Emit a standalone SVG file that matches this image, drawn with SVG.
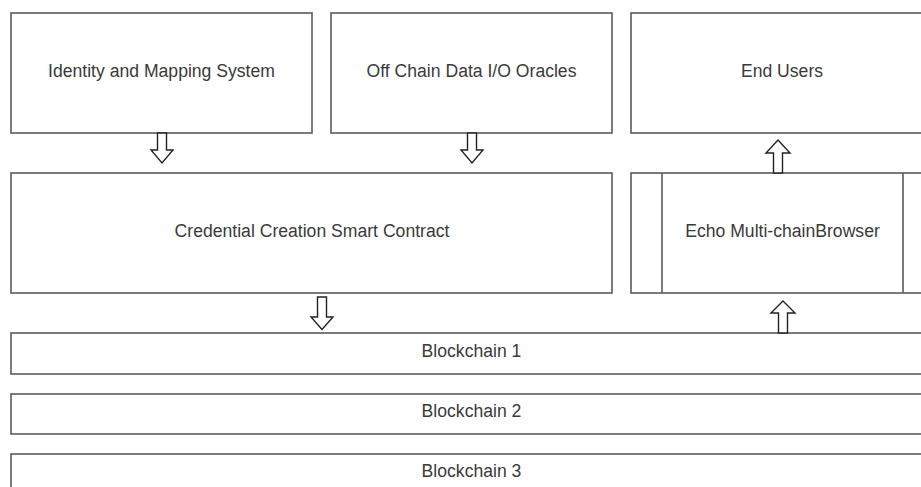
<svg xmlns="http://www.w3.org/2000/svg" width="921" height="487" viewBox="0 0 921 487">
<style>
.box{fill:#fff;stroke:#5a5a5a;stroke-width:1.6}
.div{stroke:#5a5a5a;stroke-width:1.6;fill:none}
.lbl{font-family:"Liberation Sans",Arial,sans-serif;font-size:17.6px;fill:#3a3a3a;text-anchor:middle}
.arr{fill:#fff;stroke:#222;stroke-width:1.4;stroke-linejoin:miter}
</style>
<rect width="921" height="487" fill="#fff"/>
<g id="identity">
<rect class="box" x="11" y="13" width="301" height="120"/>
<text class="lbl" x="161.5" y="77">Identity and Mapping System</text>
</g>
<g id="oracles">
<rect class="box" x="331" y="13" width="281" height="120"/>
<text class="lbl" x="471.5" y="77">Off Chain Data I/O Oracles</text>
</g>
<g id="endusers">
<rect class="box" x="631" y="13" width="302" height="120"/>
<text class="lbl" x="782" y="77">End Users</text>
</g>
<g id="credential">
<rect class="box" x="11" y="173" width="601" height="120"/>
<text class="lbl" x="312" y="237">Credential Creation Smart Contract</text>
</g>
<g id="echo">
<rect class="box" x="631" y="173" width="302" height="120"/>
<line class="div" x1="662" y1="173" x2="662" y2="293"/>
<line class="div" x1="903" y1="173" x2="903" y2="293"/>
<text class="lbl" x="782.5" y="237">Echo Multi-chainBrowser</text>
</g>
<g id="blockchain1">
<rect class="box" x="11" y="333" width="921" height="41"/>
<text class="lbl" x="471.5" y="357">Blockchain 1</text>
</g>
<g id="blockchain2">
<rect class="box" x="11" y="394" width="921" height="40"/>
<text class="lbl" x="471.5" y="417">Blockchain 2</text>
</g>
<g id="blockchain3">
<rect class="box" x="11" y="454" width="921" height="40"/>
<text class="lbl" x="471.5" y="477">Blockchain 3</text>
</g>
<g id="connectors">
<path class="arr" d="M157.5 133 H166.5 V150 H173 L162 163 L151 150 H157.5 Z"/>
<path class="arr" d="M467.5 133 H476.5 V150 H483 L472 163 L461 150 H467.5 Z"/>
<path class="arr" d="M317.5 297 H326.5 V317 H333 L322 329.5 L311 317 H317.5 Z"/>
<path class="arr" d="M773.5 173 H782.5 V153 H790 L778 140 L766 153 H773.5 Z"/>
<path class="arr" d="M778.5 333 H787.5 V313 H795 L783 301 L771 313 H778.5 Z"/>
</g>
</svg>
